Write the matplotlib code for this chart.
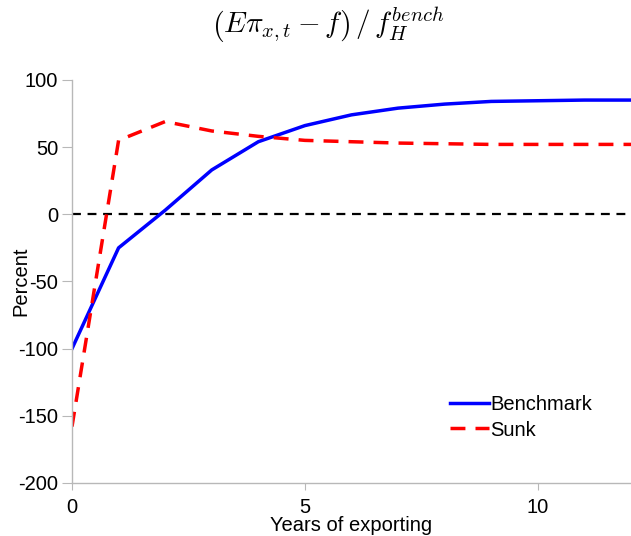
import numpy as np
import matplotlib
matplotlib.use("Agg")
import matplotlib.pyplot as plt

plt.rcParams['font.family'] = ['Liberation Sans', 'DejaVu Sans']
plt.rcParams['mathtext.fontset'] = 'cm'

# Data
years = [0, 1, 2, 3, 4, 5, 6, 7, 8, 9, 10, 11, 12]
benchmark = [-100, -25, 3, 33, 54, 66, 74, 79, 82, 84, 84.5, 85, 85]
sunk = [-158, 55, 69, 62, 58, 55, 54, 53, 52.5, 52, 52, 52, 52]

fig = plt.figure(figsize=(6.31, 5.36), dpi=100)
ax = fig.add_axes([0.1141, 0.0989, 0.8859, 0.752])

ax.axhline(0, color='black', linestyle=(0, (4, 3)), linewidth=1.6)
ax.plot(years, benchmark, color='#0000ff', linewidth=2.5, label='Benchmark')
ax.plot(years, sunk, color='#ff0000', linewidth=2.5, linestyle=(0, (4.3, 2.9)), label='Sunk')

ax.set_xlim(0, 12)
ax.set_ylim(-200, 100)
ax.set_xticks([0, 5, 10])
ax.set_yticks([-200, -150, -100, -50, 0, 50, 100])
ax.set_yticklabels(['-200', '-150', '-100', '-50', '0', '50', '100'])

for side in ['top', 'right']:
    ax.spines[side].set_visible(False)
for side in ['left', 'bottom']:
    ax.spines[side].set_color('#b8b8b8')
    ax.spines[side].set_linewidth(1.0)
ax.tick_params(axis='y', colors='#b8b8b8', labelcolor='black', labelsize=14.5, length=7, pad=3)
ax.tick_params(axis='x', colors='#b8b8b8', labelcolor='black', labelsize=14.5, length=5, pad=6)

ax.set_xlabel('Years of exporting', fontsize=14.5)
ax.xaxis.set_label_coords(0.5, -0.083)
ax.set_ylabel('Percent', fontsize=14.5)
ax.yaxis.set_label_coords(-0.075, 0.5)

fig.text(0.52, 0.953, r'$\left(E\pi_{x,t}-f\right)\,/\,f_H^{bench}$', ha='center', va='center', fontsize=21)

ax.legend(loc='center left', bbox_to_anchor=(0.662, 0.1625), frameon=False, fontsize=14.5,
          handlelength=1.95, handletextpad=0.05, labelspacing=0.3, borderaxespad=0)

fig.savefig('out.png', dpi=100)
